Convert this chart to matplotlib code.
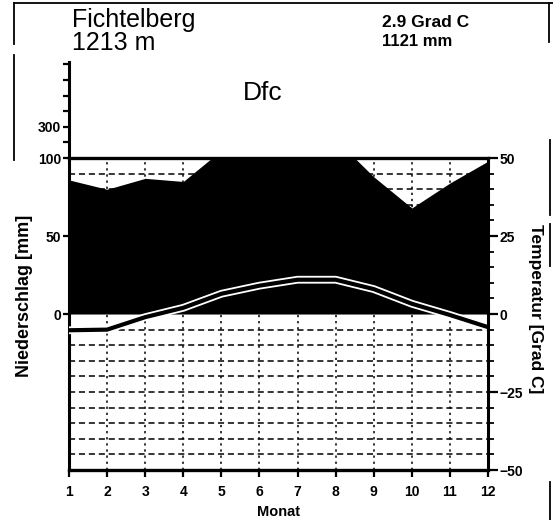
import numpy as np
import matplotlib
matplotlib.use("Agg")
import matplotlib.pyplot as plt
from matplotlib.patches import Rectangle
from matplotlib.lines import Line2D

plt.rcParams['font.family'] = ['Liberation Sans', 'DejaVu Sans']

# Klimadaten Fichtelberg
station = "Fichtelberg"
elevation = "1213 m"
annual_temp = "2.9 Grad C"
annual_precip = "1121 mm"
climate_class = "Dfc"
months = [1, 2, 3, 4, 5, 6, 7, 8, 9, 10, 11, 12]
month_labels = ["1", "2", "3", "4", "5", "6", "7", "8", "9", "10", "11", "12"]
temperature = [-5.2, -5.0, -1.0, 2.0, 6.5, 9.1, 11.0, 11.0, 8.0, 3.3, -0.3, -4.2]
precipitation = [86, 80, 87, 85, 105, 112, 116, 112, 88, 68, 84, 98]

W, H = 553, 520
fig = plt.figure(figsize=(W / 100, H / 100), dpi=100)
fig.patch.set_facecolor("white")

# axis in temperature units: 1 degC = 2 mm up to 100 mm, above that 1 degC = 20 mm
y_top = 80.8
ax = fig.add_axes([69 / W, 50 / H, 419 / W, 408 / H])
ax.set_xlim(1, 12)
ax.set_ylim(-50, y_top)

m = np.array(months, dtype=float)
t = np.array(temperature)
p_units = np.array(precipitation) / 2.0

# dashed grid
for yy in range(-45, 50, 5):
    if yy == 0:
        continue
    ax.plot([1, 12], [yy, yy], color="black", lw=1.1,
            linestyle=(0, (4, 2.5)), zorder=1)
for xx in months[1:-1]:
    ax.plot([xx, xx], [-50, 50], color="black", lw=1.1,
            linestyle=(0, (1.5, 2.5)), zorder=1)

# precipitation (black area), cut at 100 mm
poly = ax.fill_between(m, 0, p_units, color="black", lw=0, zorder=2)
clip = Rectangle((1, 0), 11, 50, transform=ax.transData)
poly.set_clip_path(clip)

# temperature curve drawn as black line with white outline
ax.plot(m, t, color="white", lw=5.6, zorder=3, solid_joinstyle="round")
ax.plot(m, t, color="black", lw=3.0, zorder=4, solid_joinstyle="round")

# 100 mm / 50 degC line
ax.plot([1, 12], [50, 50], color="black", lw=2.4, zorder=5, clip_on=False)

# left axis: precipitation
for s in ["top", "right"]:
    ax.spines[s].set_visible(False)
ax.spines["left"].set_linewidth(2.2)
ax.spines["bottom"].set_linewidth(2.4)
left_ticks = [0, 25, 50, 55, 60, 65, 70, 75, 80]
left_labels = ["0", "50", "100", "", "300", "", "", "", ""]
ax.set_yticks(left_ticks)
ax.set_yticklabels(left_labels, fontsize=10, fontweight="bold")
ax.tick_params(axis="y", direction="out", length=4.5, width=1.6, pad=1)
ax.set_xticks(months)
ax.set_xticklabels(month_labels, fontsize=10, fontweight="bold")
ax.tick_params(axis="x", direction="out", length=5, width=1.6, pad=6)

# right axis: temperature
ax2 = ax.twinx()
ax2.set_ylim(-50, y_top)
for s in ["top", "left", "bottom"]:
    ax2.spines[s].set_visible(False)
ax2.spines["right"].set_bounds(-50, 50)
ax2.spines["right"].set_linewidth(2.2)
ax2.set_yticks([-50, -25, 0, 25, 50])
ax2.set_yticklabels(["\u221250", "\u221225", "0", "25", "50"],
                    fontsize=10, fontweight="bold")
ax2.set_yticks(np.arange(-45, 50, 5), minor=True)
ax2.tick_params(axis="y", which="major", direction="out", length=7,
                width=1.6, pad=1)
ax2.tick_params(axis="y", which="minor", direction="out", length=4,
                width=1.3)

# axis titles
fig.text(25 / W, 1 - 296 / H, "Niederschlag [mm]", rotation=90,
         ha="center", va="center", fontsize=13, fontweight="bold")
fig.text(535 / W, 1 - 309 / H, "Temperatur [Grad C]", rotation=270,
         ha="center", va="center", fontsize=12.5, fontweight="bold")
fig.text(278 / W, 1 - 512 / H, "Monat", ha="center", va="center",
         fontsize=10.5, fontweight="bold")

# header
fig.text(72 / W, 1 - 27 / H, station, fontsize=18, va="baseline")
fig.text(72 / W, 1 - 50 / H, elevation, fontsize=18, va="baseline")
fig.text(382 / W, 1 - 27 / H, annual_temp, fontsize=12.5,
         fontweight="bold", va="baseline")
fig.text(382 / W, 1 - 46 / H, annual_precip, fontsize=12,
         fontweight="bold", va="baseline")
fig.text(243 / W, 1 - 100 / H, climate_class, fontsize=19, va="baseline")

# page border lines
border = [
    ([14, 553], [3, 3]),
    ([14, 14], [3, 44]),
    ([549, 549], [3, 42]),
    ([14, 14], [55, 160]),
    ([550, 550], [140, 215]),
    ([550, 550], [224, 266]),
    ([550, 550], [482, 520]),
]
for xs, ys in border:
    fig.add_artist(Line2D([x / W for x in xs], [1 - y / H for y in ys],
                          color="black", lw=1.3, transform=fig.transFigure))

fig.savefig("out.png", dpi=100)
